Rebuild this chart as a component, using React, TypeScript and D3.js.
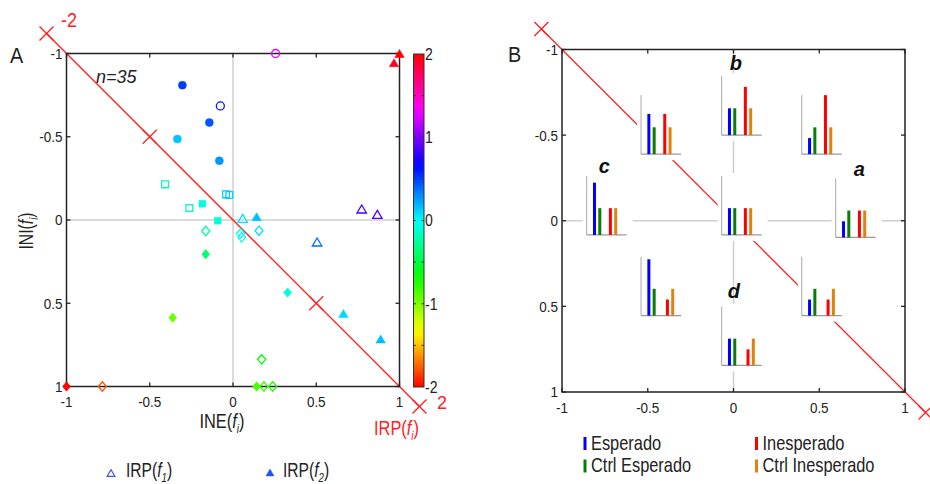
import React from "react";
import * as d3 from "d3";

type Pt = [number, number];

// ---------- Panel A data: [INE(f), INI(f)] ----------
const openCircles: Pt[] = [[-0.076, -0.685], [0.256, -1.0]];
const filledCircles: Pt[] = [[-0.304, -0.81], [-0.142, -0.585], [-0.334, -0.486], [-0.082, -0.356]];
const openSquares: Pt[] = [[-0.408, -0.214], [-0.042, -0.154], [-0.022, -0.15], [-0.262, -0.072]];
const filledSquares: Pt[] = [[-0.184, -0.098], [-0.092, 0.004]];
const openDiamonds: Pt[] = [[-0.164, 0.066], [-0.785, 1.0], [0.156, 0.064], [0.046, 0.08], [0.052, 0.104], [0.172, 0.837], [0.186, 1.0], [0.238, 1.0]];
const filledDiamonds: Pt[] = [[-0.164, 0.206], [-0.362, 0.587], [-1.0, 1.0], [0.328, 0.436], [0.142, 1.0]];
const openTriangles: Pt[] = [[0.773, -0.066], [0.867, -0.034], [0.058, -0.01], [0.505, 0.132]];
const filledTriangles: Pt[] = [[1.0, -1.0], [0.967, -0.945], [0.142, -0.02], [0.663, 0.561], [0.887, 0.715]];

const axisTicks = [-1, -0.5, 0, 0.5, 1];
const axisTickLabels = ["-1", "-0.5", "0", "0.5", "1"];
const colorTicks = [-2, -1, 0, 1, 2];
const colorTickLabels = ["-2", "-1", "0", "1", "2"];
const colorMinorTicks = [-1.5, -1, -0.5, 0, 0.5, 1, 1.5];
const irpMarksA = [-1.12, -0.5, 0.5, 1.12];
const irpMarksB = [-1.12, 1.12];

// ---------- Panel B data (insets) ----------
const insetLabels = ["", "b", "", "c", "", "a", "", "d", ""];
const insetX = [-0.539, -0.069, 0.398, -0.856, -0.069, 0.596, -0.539, -0.069, 0.398];
const insetY = [-0.389, -0.5, -0.389, 0.083, 0.083, 0.097, 0.554, 0.845, 0.554];
const esperado = [1.5, 1.0, 0.6, 1.95, 1.0, 0.6, 2.1, 1.0, 0.6];
const ctrlEsperado = [1, 1, 1, 1, 1, 1, 1, 1, 1];
const inesperado = [1.5, 1.8, 2.2, 1.0, 1.0, 1.0, 0.6, 0.6, 0.6];
const ctrlInesperado = [1, 1, 1, 1, 1, 1, 1, 1, 1];
const legendB = ["Esperado", "Ctrl Esperado", "Inesperado", "Ctrl Inesperado"];
const barColors = ["#0000ff", "#0a7a0a", "#ff0000", "#e0820f"];

const FONT = "'Liberation Sans', Arial, sans-serif";
const RED = "#ff2020";

function colorOf(v: number) {
  const h = (((v + 2) / 4) * 360) % 360;
  return d3.hsl(h, 1, 0.5).formatHex();
}

function shapePath(shape: string, cx: number, cy: number, scale = 1) {
  if (shape === "tri") {
    const w = 9.5 * scale, h = 8 * scale;
    return `M${cx},${cy - h / 2}L${cx + w / 2},${cy + h / 2}L${cx - w / 2},${cy + h / 2}Z`;
  }
  if (shape === "dia") {
    const w = 8, h = 9.5;
    return `M${cx},${cy - h / 2}L${cx + w / 2},${cy}L${cx},${cy + h / 2}L${cx - w / 2},${cy}Z`;
  }
  if (shape === "sq") {
    const s = 6.8;
    return `M${cx - s / 2},${cy - s / 2}h${s}v${s}h${-s}Z`;
  }
  const r = 4;
  return `M${cx - r},${cy}a${r},${r} 0 1,0 ${2 * r},0a${r},${r} 0 1,0 ${-2 * r},0Z`;
}

const FI = (sub: string, size: number) => (
  <>
    <tspan fontStyle="italic">f</tspan>
    <tspan fontStyle="italic" fontSize={size * 0.62} dy={size * 0.25}>{sub}</tspan>
    <tspan dy={-size * 0.25}>)</tspan>
  </>
);

function T(props: {
  x: number; y: number; size: number; sx?: number; rot?: number; anchor?: string;
  fill?: string; italic?: boolean; bold?: boolean; dy?: string; children: any;
}) {
  const { x, y, size, sx = 1, rot = 0, anchor = "start", fill = "#222", italic, bold, dy, children } = props;
  return (
    <text
      transform={`translate(${x},${y}) rotate(${rot}) scale(${sx},1)`}
      fontSize={size}
      textAnchor={anchor}
      fill={fill}
      fontStyle={italic ? "italic" : undefined}
      fontWeight={bold ? "bold" : undefined}
      dy={dy}
    >
      {children}
    </text>
  );
}

export default function App() {
  const xA = d3.scaleLinear().domain([-1, 1]).range([66.5, 399.5]);
  const yA = d3.scaleLinear().domain([-1, 1]).range([53.5, 386.5]);
  const xB = d3.scaleLinear().domain([-1, 1]).range([562, 905]);
  const yB = d3.scaleLinear().domain([-1, 1]).range([49.5, 392]);
  const yC = d3.scaleLinear().domain([-2, 2]).range([387, 54]);
  const hBar = d3.scaleLinear().domain([0, 2.2]).range([0, 59]);
  const xSlot = d3.scaleLinear().domain([0, 1]).range([7.8, 13.1]);

  const groups: { pts: Pt[]; shape: string; filled: boolean }[] = [
    { pts: openSquares, shape: "sq", filled: false },
    { pts: filledSquares, shape: "sq", filled: true },
    { pts: openDiamonds, shape: "dia", filled: false },
    { pts: filledDiamonds, shape: "dia", filled: true },
    { pts: openCircles, shape: "circ", filled: false },
    { pts: filledCircles, shape: "circ", filled: true },
    { pts: openTriangles, shape: "tri", filled: false },
    { pts: filledTriangles, shape: "tri", filled: true },
  ];

  const gradStops = d3.range(-2, 2.001, 0.125);

  const xMark = (cx: number, cy: number, k: string) => (
    <g key={k} stroke={RED} strokeWidth={1.3}>
      <line x1={cx - 7} y1={cy - 7} x2={cx + 7} y2={cy + 7} />
      <line x1={cx - 7} y1={cy + 7} x2={cx + 7} y2={cy - 7} />
    </g>
  );

  const frame = (x0: number, x1: number, y0: number, y1: number, xs: any, ys: any, pre: string) => (
    <g>
      <rect x={x0} y={y0} width={x1 - x0} height={y1 - y0} fill="none" stroke="#222" strokeWidth={1.5} />
      {axisTicks.map((t, i) => (
        <g key={pre + "t" + i} stroke="#222" strokeWidth={1.3}>
          <line x1={xs(t)} x2={xs(t)} y1={y1} y2={y1 - 4} />
          <line x1={xs(t)} x2={xs(t)} y1={y0} y2={y0 + 4} />
          <line x1={x0} x2={x0 + 4} y1={ys(t)} y2={ys(t)} />
          <line x1={x1} x2={x1 - 4} y1={ys(t)} y2={ys(t)} />
        </g>
      ))}
      {axisTicks.map((t, i) => (
        <T key={pre + "xl" + i} x={xs(t)} y={y1 + 20.5} size={15} sx={0.9} anchor="middle">
          {axisTickLabels[i]}
        </T>
      ))}
      {axisTicks.map((t, i) => (
        <T key={pre + "yl" + i} x={x0 - 4} y={ys(t)} dy="0.36em" size={15} sx={0.9} anchor="end">
          {axisTickLabels[i]}
        </T>
      ))}
    </g>
  );

  return (
    <svg width={930} height={484} style={{ position: "absolute", left: 0, top: 0, background: "#fff" }} fontFamily={FONT}>
      <defs>
        <linearGradient id="cbar" x1="0" y1="1" x2="0" y2="0">
          {gradStops.map((v, i) => (
            <stop key={i} offset={(v + 2) / 4} stopColor={colorOf(v === 2 ? 1.999 : v)} />
          ))}
        </linearGradient>
      </defs>
      <rect x={0} y={0} width={930} height={484} fill="#fff" />

      {/* ================= Panel A ================= */}
      <line x1={xA(0)} x2={xA(0)} y1={yA(-1)} y2={yA(1)} stroke="#cfcfcf" strokeWidth={1.5} />
      <line x1={xA(-1)} x2={xA(1)} y1={yA(0)} y2={yA(0)} stroke="#cfcfcf" strokeWidth={1.5} />
      <line x1={xA(-1.12)} y1={yA(-1.12)} x2={xA(1.12)} y2={yA(1.12)} stroke={RED} strokeWidth={1.3} />
      {irpMarksA.map((m, i) => xMark(xA(m), yA(m), "ma" + i))}
      {frame(66.5, 399.5, 53.5, 386.5, xA, yA, "A")}
      {groups.map((g, gi) =>
        g.pts.map((p, i) => {
          const c = colorOf(p[0] - p[1]);
          return (
            <path
              key={gi + "-" + i}
              d={shapePath(g.shape, xA(p[0]), yA(p[1]))}
              fill={g.filled ? c : "none"}
              stroke={c}
              strokeWidth={g.filled ? 0.5 : 1.3}
            />
          );
        })
      )}
      <T x={10} y={63} size={22} sx={0.9}>A</T>
      <T x={96} y={83} size={18} italic>n=35</T>
      <T x={61} y={27} size={20} sx={0.9} fill={RED}>-2</T>
      <T x={437} y={409} size={19} sx={0.95} fill={RED}>2</T>
      <T x={374} y={435} size={21} sx={0.78} fill={RED}>IRP({FI("i", 21)}</T>
      <T x={222} y={428} size={21} sx={0.78} anchor="middle">INE({FI("i", 21)}</T>
      <T x={33} y={231} size={21} sx={0.75} rot={-90} anchor="middle">INI({FI("i", 21)}</T>

      {/* colorbar */}
      <rect x={413.5} y={yC(2)} width={10.5} height={yC(-2) - yC(2)} fill="url(#cbar)" stroke="#333" strokeWidth={1} />
      {colorMinorTicks.map((t, i) => (
        <g key={"ct" + i} stroke="#333" strokeWidth={1}>
          <line x1={413.5} x2={416} y1={yC(t)} y2={yC(t)} />
          <line x1={424} x2={421.5} y1={yC(t)} y2={yC(t)} />
        </g>
      ))}
      {colorTicks.map((t, i) => (
        <T key={"cl" + i} x={425} y={yC(t)} dy="0.36em" size={16.5} sx={0.85}>
          {colorTickLabels[i]}
        </T>
      ))}

      {/* legend A */}
      <path d={shapePath("tri", 111, 473, 0.82)} fill="none" stroke="#3050ff" strokeWidth={1.2} />
      <T x={126} y={477} size={19.5} sx={0.8}>IRP({FI("1", 19.5)}</T>
      <path d={shapePath("tri", 270, 472.5, 0.85)} fill="#1f55ff" stroke="#1f55ff" strokeWidth={0.5} />
      <T x={283} y={477} size={19.5} sx={0.8}>IRP({FI("2", 19.5)}</T>

      {/* ================= Panel B ================= */}
      <line x1={xB(0)} x2={xB(0)} y1={yB(-1)} y2={yB(1)} stroke="#cfcfcf" strokeWidth={1.5} />
      <line x1={xB(-1)} x2={xB(1)} y1={yB(0)} y2={yB(0)} stroke="#cfcfcf" strokeWidth={1.5} />
      <line x1={xB(-1.12)} y1={yB(-1.12)} x2={xB(1.12)} y2={yB(1.12)} stroke={RED} strokeWidth={1.3} />
      {irpMarksB.map((m, i) => xMark(xB(m), yB(m), "mb" + i))}

      {insetX.map((ix, i) => {
        const left = xB(ix);
        const bottom = yB(insetY[i]);
        const vals = [esperado[i], ctrlEsperado[i], inesperado[i], ctrlInesperado[i]];
        const shift = i >= 6 ? 0.5 : 0;
        const slots = [0, 1, 3 + shift, 4 + shift];
        return (
          <g key={"in" + i}>
            <rect x={left - 4} y={bottom - 62} width={50} height={68} fill="#fff" />
            <line x1={left} x2={left} y1={bottom - 59} y2={bottom} stroke="#a8a8a8" strokeWidth={1} />
            <line x1={left} x2={left + 40} y1={bottom} y2={bottom} stroke="#999" strokeWidth={1.2} />
            {vals.map((v, j) => (
              <rect key={j} x={left + xSlot(slots[j]) - 1.5} y={bottom - hBar(v)} width={3} height={hBar(v)} fill={barColors[j]} />
            ))}
          </g>
        );
      })}
      {insetX.map((ix, i) => {
        if (!insetLabels[i]) return null;
        const off: Record<string, [number, number]> = { b: [8, -6], c: [12, -3], a: [18, -2], d: [6, -8] };
        const o = off[insetLabels[i]];
        return (
          <T key={"il" + i} x={xB(ix) + o[0]} y={yB(insetY[i]) - 59 + o[1]} size={20} bold italic fill="#111">
            {insetLabels[i]}
          </T>
        );
      })}
      {frame(562, 905, 49.5, 392, xB, yB, "B")}
      <T x={508} y={62} size={22} sx={0.9}>B</T>

      {/* legend B */}
      {legendB.map((name, i) => {
        const col = i < 2 ? 0 : 1;
        const row = i % 2;
        const x = col === 0 ? 583.5 : 755;
        const y = row === 0 ? 437 : 459.5;
        return (
          <g key={"lb" + i}>
            <rect x={x} y={y} width={3} height={13} fill={barColors[i]} />
            <T x={x + 7.5} y={y + 12.5} size={20} sx={0.82}>{name}</T>
          </g>
        );
      })}
    </svg>
  );
}
